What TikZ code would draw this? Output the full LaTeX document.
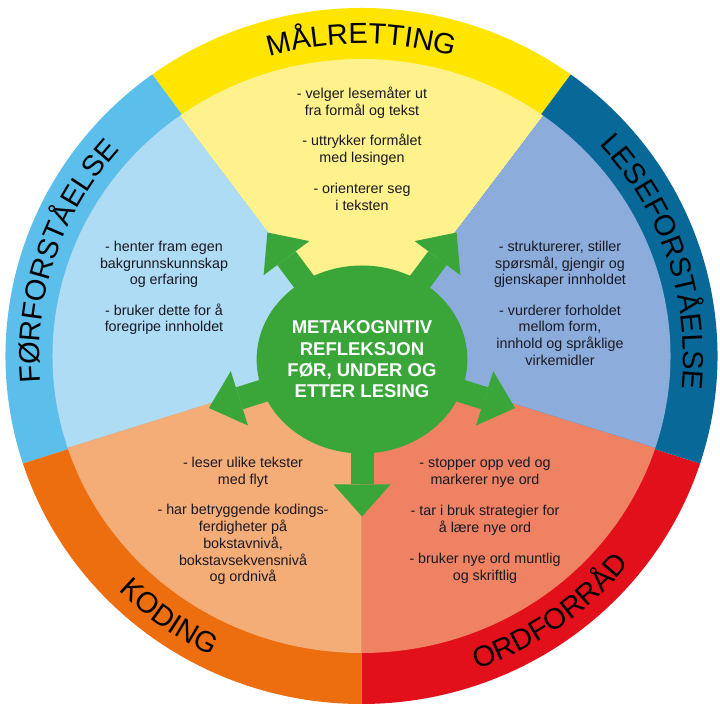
\documentclass[tikz,border=0pt]{standalone}
\usepackage{fontspec}
\setmainfont{Liberation Sans}
\usetikzlibrary{decorations.text,arrows.meta,shapes.geometric}
\pgfdeclarelayer{back}
\pgfdeclarelayer{mid}
\pgfsetlayers{back,mid,main}
\definecolor{ringY}{RGB}{255,229,0}
\definecolor{fillY}{RGB}{255,242,140}
\definecolor{ringDB}{RGB}{8,104,152}
\definecolor{fillDB}{RGB}{140,173,220}
\definecolor{ringR}{RGB}{226,16,26}
\definecolor{fillR}{RGB}{238,130,98}
\definecolor{ringO}{RGB}{236,110,14}
\definecolor{fillO}{RGB}{245,173,120}
\definecolor{ringLB}{RGB}{92,190,234}
\definecolor{fillLB}{RGB}{174,220,244}
\definecolor{metagreen}{RGB}{58,166,58}
\definecolor{bodytext}{RGB}{26,24,34}
\newcommand{\ringfont}{\fontsize{29pt}{31pt}\selectfont}
\begin{document}
\begin{tikzpicture}[x=1pt,y=1pt,
  body/.style={anchor=base, inner sep=0pt, text=bodytext,
    font=\fontsize{14.3pt}{16.7pt}\selectfont},
  ringlabel/.style={decorate, decoration={text along path, text align=center,
    text color=black, text={|\ringfont|#1}}},
  metaarrow/.style={draw=metagreen, line width=23pt,
    -{Triangle[width=57pt,length=32pt,line width=0pt]}},
  metabox/.style={ellipse, fill=metagreen, minimum width=201pt, minimum height=188pt,
    inner sep=0pt, text=white, align=center,
    font=\bfseries\fontsize{18.5pt}{21.3pt}\selectfont}
]
\useasboundingbox (0,0) rectangle (720,708);
\coordinate (c) at (361.5,352);
\begin{pgfonlayer}{back}
  \fill[white] (0,0) rectangle (720,708);
  \foreach \a/\b/\col in {54/126/ringY,126/198/ringLB,198/270/ringO,270/342/ringR,-18/54/ringDB}
    \fill[\col] (c) -- ++(\a:356pt and 348pt)
      arc[start angle=\a,end angle=\b,x radius=356pt,y radius=348pt] -- cycle;
  \foreach \a/\b/\col in {54/126/fillY,126/198/fillLB,198/270/fillO,270/342/fillR,-18/54/fillDB}
    \fill[\col] (c) -- ++(\a:309pt and 297pt)
      arc[start angle=\a,end angle=\b,x radius=309pt,y radius=297pt] -- cycle;
\end{pgfonlayer}

% ring labels
\path (c) ++(140:322pt and 312.5pt) coordinate (sM);
\path (c) ++(68:322pt and 312.5pt) coordinate (sL);
\path (c) ++(212:322pt and 312.5pt) coordinate (sF);
\path (c) ++(-104:343pt and 333pt) coordinate (sO);
\path (c) ++(184:343pt and 333pt) coordinate (sK);
\path[ringlabel=MÅLRETTING] (sM) arc[start angle=140,end angle=40,x radius=322pt,y radius=312.5pt];
\path[ringlabel=LESEFORSTÅELSE] (sL) arc[start angle=68,end angle=-32,x radius=322pt,y radius=312.5pt];
\path[ringlabel=FØRFORSTÅELSE] (sF) arc[start angle=212,end angle=112,x radius=322pt,y radius=312.5pt];
\path[ringlabel=ORDFORRÅD] (sO) arc[start angle=-104,end angle=-4,x radius=343pt,y radius=333pt];
\path[ringlabel=KODING] (sK) arc[start angle=184,end angle=284,x radius=343pt,y radius=333pt];

% body texts
\node[body] (tM) at (362,609.4) {\begin{tabular}[t]{@{}c@{}}- velger lesemåter ut\\fra formål og tekst\\[14pt]- uttrykker formålet\\med lesingen\\[14pt]- orienterer seg\\i teksten\end{tabular}};
\node[body] (tF) at (164,456.4) {\begin{tabular}[t]{@{}c@{}}- henter fram egen\\bakgrunnskunnskap\\og erfaring\\[13.5pt]- bruker dette for å\\foregripe innholdet\end{tabular}};
\node[body] (tL) at (560,456.4) {\begin{tabular}[t]{@{}c@{}}- strukturerer, stiller\\spørsmål, gjengir og\\gjenskaper innholdet\\[13.5pt]- vurderer forholdet\\mellom form,\\innhold og språklige\\virkemidler\end{tabular}};
\node[body] (tK) at (243,240.4) {\begin{tabular}[t]{@{}c@{}}- leser ulike tekster\\med flyt\\[14pt]- har betryggende kodings-\\ferdigheter på\\bokstavnivå,\\bokstavsekvensnivå\\og ordnivå\end{tabular}};
\node[body] (tO) at (485,240.4) {\begin{tabular}[t]{@{}c@{}}- stopper opp ved og\\markerer nye ord\\[14.5pt]- tar i bruk strategier for\\å lære nye ord\\[14.5pt]- bruker nye ord muntlig\\og skriftlig\end{tabular}};

% centre and arrows
\node[metabox] (meta) at (362,348.5) {METAKOGNITIV\\REFLEKSJON\\FØR, UNDER OG\\ETTER LESING};
\path (meta.center) ++(54:161pt and 157pt) coordinate (aM);
\path (meta.center) ++(126:161pt and 157pt) coordinate (aF);
\path (meta.center) ++(198:161pt and 157pt) coordinate (aK);
\path (meta.center) ++(270:161pt and 157pt) coordinate (aB);
\path (meta.center) ++(342:161pt and 157pt) coordinate (aO);
\begin{pgfonlayer}{mid}
  \foreach \t in {aM,aF,aK,aB,aO}
    \draw[metaarrow] (meta.center) -- (\t);
\end{pgfonlayer}
\end{tikzpicture}
\end{document}
